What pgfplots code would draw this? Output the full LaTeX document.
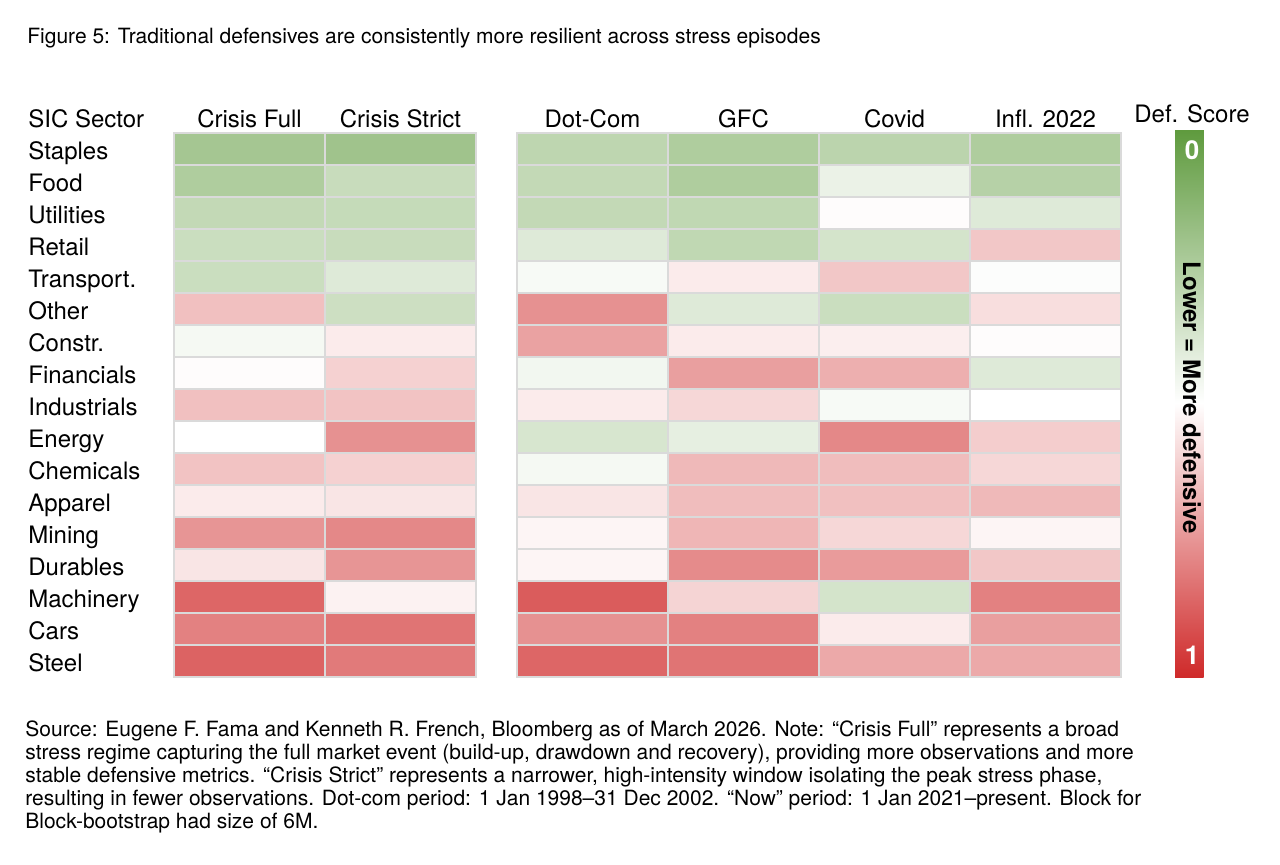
\documentclass[border=0pt]{standalone}
\usepackage{pgfplots}
\pgfplotsset{compat=1.18}
\usepackage{pgfplotstable}
\usepackage{fontspec}
\setmainfont{TeX Gyre Heros}

% Defensive scores (0 = most defensive, 1 = least), one row per SIC sector
\pgfplotstableread{
row col score
1  0 0.14
1  1 0.12
2  0 0.18
2  1 0.28
3  0 0.26
3  1 0.27
4  0 0.29
4  1 0.28
5  0 0.29
5  1 0.37
6  0 0.69
6  1 0.30
7  0 0.46
7  1 0.56
8  0 0.51
8  1 0.64
9  0 0.69
9  1 0.68
10 0 0.50
10 1 0.83
11 0 0.68
11 1 0.64
12 0 0.56
12 1 0.58
13 0 0.82
13 1 0.86
14 0 0.58
14 1 0.82
15 0 0.96
15 1 0.54
16 0 0.88
16 1 0.92
17 0 0.97
17 1 0.90
}\crisis

% Episode scores: Dot-Com, GFC, Covid, Infl. 2022
\pgfplotstableread{
row col score
1  2 0.24
1  3 0.18
1  4 0.23
1  5 0.18
2  2 0.26
2  3 0.18
2  4 0.42
2  5 0.21
3  2 0.26
3  3 0.25
3  4 0.51
3  5 0.37
4  2 0.37
4  3 0.25
4  4 0.33
4  5 0.67
5  2 0.47
5  3 0.56
5  4 0.67
5  5 0.49
6  2 0.83
6  3 0.37
6  4 0.29
6  5 0.60
7  2 0.78
7  3 0.56
7  4 0.55
7  5 0.51
8  2 0.45
8  3 0.79
8  4 0.74
8  5 0.37
9  2 0.56
9  3 0.62
9  4 0.47
9  5 0.50
10 2 0.34
10 3 0.40
10 4 0.86
10 5 0.65
11 2 0.46
11 3 0.71
11 4 0.70
11 5 0.62
12 2 0.58
12 3 0.70
12 4 0.69
12 5 0.71
13 2 0.53
13 3 0.72
13 4 0.62
13 5 0.53
14 2 0.53
14 3 0.85
14 4 0.80
14 5 0.67
15 2 0.99
15 3 0.63
15 4 0.33
15 5 0.88
16 2 0.83
16 3 0.88
16 4 0.56
16 5 0.79
17 2 0.96
17 3 0.92
17 4 0.76
17 5 0.76
}\episodes

\definecolor{cellline}{HTML}{DADADA}

% one heatmap cell: 75.5pt x 16pt rectangle centred on the data point
\pgfdeclareplotmark{cell}{%
  \pgfpathrectangle{\pgfpoint{-37.75pt}{-8pt}}{\pgfpoint{75.5pt}{16pt}}%
  \pgfusepathqfillstroke}

\begin{document}
\begin{tikzpicture}
\useasboundingbox (0,0) rectangle (640pt,-432pt);

\node[anchor=base west, inner sep=0pt, font=\fontsize{10.5}{12}\selectfont] at (13.5pt,-21.5pt)
  {Figure 5: Traditional defensives are consistently more resilient across stress episodes};

\begin{axis}[
  at={(87pt,-338.5pt)}, anchor=south west,
  scale only axis, width=473.5pt, height=272pt,
  xmin=0, xmax=6.2715, ymin=0.5, ymax=17.5, y dir=reverse,
  axis line style={draw=none}, major tick length=0pt,
  clip=false,
  xtick={0.5,1.5,2.7715,3.7715,4.7715,5.7715},
  xticklabels={Crisis Full, Crisis Strict, Dot-Com, GFC, Covid, Infl. 2022},
  xticklabel pos=upper,
  xticklabel style={anchor=base, yshift=3pt, inner sep=0pt,
    font=\fontsize{12}{14}\selectfont},
  ytick={1,...,17},
  yticklabels={Staples, Food, Utilities, Retail, Transport., Other, Constr.,
    Financials, Industrials, Energy, Chemicals, Apparel, Mining, Durables,
    Machinery, Cars, Steel},
  yticklabel style={anchor=base west, xshift=-73pt, yshift=-5pt, inner sep=0pt,
    font=\fontsize{12}{14}\selectfont},
  colormap={defscore}{rgb255(0cm)=(94,154,61); rgb255(1cm)=(255,255,255); rgb255(2cm)=(207,42,42)},
  point meta min=0, point meta max=1,
  colorbar,
  colorbar style={
    name=cbar,
    at={(parent axis.north east)}, anchor=north west,
    xshift=18.5pt, yshift=2pt,
    scale only axis, width=17.5pt, height=274pt,
    y dir=reverse,
    ytick=\empty,
    axis line style={draw=none},
  },
]
\addplot[scatter, only marks, mark=cell, point meta=explicit, line width=0.75pt,
  scatter/use mapped color={draw=cellline, fill=mapped color!78!white}]
  table[x expr=\thisrow{col}+0.5, y=row, meta=score] {\crisis};
\addplot[scatter, only marks, mark=cell, point meta=explicit, line width=0.75pt,
  scatter/use mapped color={draw=cellline, fill=mapped color!78!white}]
  table[x expr=\thisrow{col}+0.7715, y=row, meta=score] {\episodes};
\end{axis}

\node[anchor=base west, inner sep=0pt, font=\fontsize{12}{14}\selectfont] at (14pt,-63.5pt) {SIC Sector};
\node[anchor=base, inner sep=0pt, font=\fontsize{12}{14}\selectfont] at (596pt,-61pt) {Def. Score};
\node[text=white, font=\bfseries\fontsize{13}{14}\selectfont] at (596pt,-75pt) {0};
\node[text=white, font=\bfseries\fontsize{13}{14}\selectfont] at (596pt,-327.5pt) {1};
\node[rotate=-90, font=\bfseries\fontsize{12}{14}\selectfont] at (596pt,-199pt) {Lower = More defensive};

\begin{scope}[font=\fontsize{10.5}{11.5}\selectfont, every node/.style={anchor=base west, inner sep=0pt}]
\node at (12.5pt,-368pt) {Source: Eugene F. Fama and Kenneth R. French, Bloomberg as of March 2026. Note: “Crisis Full” represents a broad};
\node at (12.5pt,-379.5pt) {stress regime capturing the full market event (build-up, drawdown and recovery), providing more observations and more};
\node at (12.5pt,-391pt) {stable defensive metrics. “Crisis Strict” represents a narrower, high-intensity window isolating the peak stress phase,};
\node at (12.5pt,-402.5pt) {resulting in fewer observations. Dot-com period: 1 Jan 1998–31 Dec 2002. “Now” period: 1 Jan 2021–present. Block for};
\node at (12.5pt,-414pt) {Block-bootstrap had size of 6M.};
\end{scope}
\end{tikzpicture}
\end{document}
